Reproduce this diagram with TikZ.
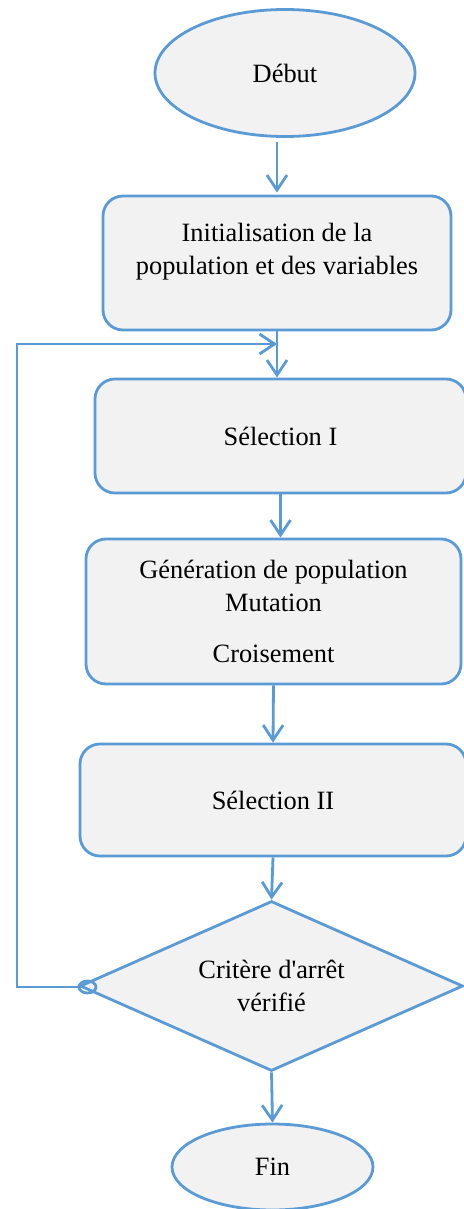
\documentclass[tikz,border=0pt]{standalone}
\usepackage{fontspec}
\setmainfont{Liberation Serif}
\usetikzlibrary{shapes.geometric,arrows.meta}
\definecolor{lineblue}{RGB}{91,155,213}
\definecolor{boxfill}{RGB}{242,242,242}
\begin{document}
\begin{tikzpicture}[x=1pt,y=-1pt,
  every node/.style={font=\fontsize{26.4}{33}\selectfont},
  base/.style={draw=lineblue, fill=boxfill, line width=2.8pt, inner sep=0pt, align=center},
  stepbox/.style={base, rectangle, rounded corners=20pt},
  terminal/.style={base, ellipse},
  decision/.style={base, diamond, aspect=2.25},
  txt/.style={inner sep=0pt, align=center},
  tailmark/.style={draw=lineblue, line width=2.8pt, ellipse, inner sep=0pt, minimum width=17pt, minimum height=12pt},
  flow/.style={draw=lineblue, line width=2.8pt, -{Straight Barb[length=15pt,width=20pt]}},
  loopline/.style={draw=lineblue, line width=2.8pt, -{Straight Barb[length=15pt,width=20pt]}}
]
\useasboundingbox (0,0) rectangle (463,1209);

\node[terminal, minimum width=260pt, minimum height=127pt] (debut) at (285,73) {Début};
\node[stepbox, minimum width=348pt, minimum height=134pt] (init) at (277,263) {};
\node[txt] (initT) at (277,252) {Initialisation de la\\population et des variables};
\node[stepbox, minimum width=371pt, minimum height=114pt] (sel1) at (280.5,436) {Sélection I};
\node[stepbox, minimum width=375pt, minimum height=145pt] (gen) at (273.5,611.5)
  {\fontsize{26.4}{30}\selectfont Génération de population\\Mutation\\[18pt]Croisement};
\node[stepbox, minimum width=386pt, minimum height=112pt] (sel2) at (273,800) {Sélection II};
\node[decision, minimum width=383pt, minimum height=170pt] (crit) at (271.5,986) {Critère d\textquotesingle arrêt\\vérifié};
\node[terminal, minimum width=201pt, minimum height=86pt] (fin) at (272.5,1167) {Fin};
\node[tailmark] (tail) at (87.5,987) {};

\coordinate (loopin) at (277,344);

\draw[flow, shorten <=4pt, shorten >=2pt] (init.north |- debut.south) -- (init.north);
\draw[flow] (init.south) -- (init.south |- sel1.north);
\draw[flow] (sel1.south) -- (sel1.south |- gen.north);
\draw[flow] (gen.south) -- (sel2.north);
\draw[flow] (sel2.south) -- (crit.north);
\draw[flow] (crit.south) -- (fin.north);
\draw[loopline] (tail.west) -| (17,344) -- (loopin);
\end{tikzpicture}
\end{document}
